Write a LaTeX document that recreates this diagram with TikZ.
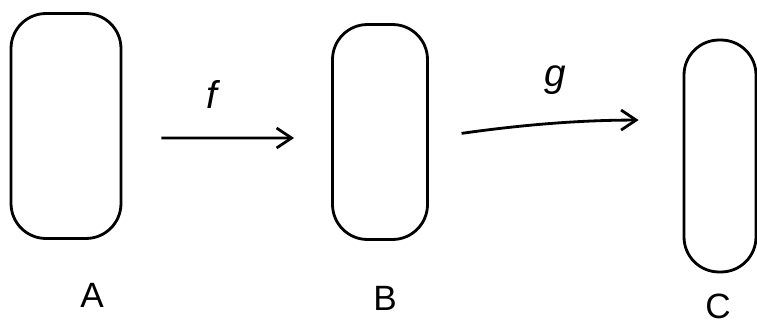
\documentclass[tikz,border=0pt]{standalone}
\usepackage{fontspec}
\setmainfont{Liberation Sans}
\usetikzlibrary{positioning,arrows.meta}

\begin{document}
\begin{tikzpicture}[
    x=0.02cm, y=-0.02cm,
    blob/.style={rectangle, draw, line width=1.6pt, rounded corners=0.7cm},
    arrow/.style={-{Straight Barb[length=3mm,width=4mm]}, line width=1.6pt},
    setlabel/.style={font=\fontsize{20}{24}\selectfont},
    maplabel/.style={font=\fontsize{22}{26}\selectfont\itshape, above=0.45cm},
]
\useasboundingbox (0,0) rectangle (757,328);

% Three sets
\node[blob, minimum width=2.2cm, minimum height=4.5cm] (setA) at (66,126) {};
\node[blob, minimum width=1.9cm, minimum height=4.3cm] (setB) at (380,132) {};
\node[blob, minimum width=1.44cm, minimum height=4.64cm] (setC) at (720,156) {};

% Set names
\node[setlabel] (labA) at (92,295) {A};
\node[setlabel] (labB) at (385,298) {B};
\node[setlabel] (labC) at (718,306) {C};

% Maps between sets
\draw[arrow, shorten <=0.78cm, shorten >=0.74cm]
    ([yshift=-0.24cm]setA.east) -- node[maplabel, xshift=-0.3cm] {f} ([yshift=-0.12cm]setB.west);
\draw[arrow, shorten <=0.66cm, shorten >=0.88cm]
    ([yshift=-0.12cm]setB.east) to[bend left=4] node[maplabel] {g} ([yshift=0.72cm]setC.west);

\end{tikzpicture}
\end{document}
